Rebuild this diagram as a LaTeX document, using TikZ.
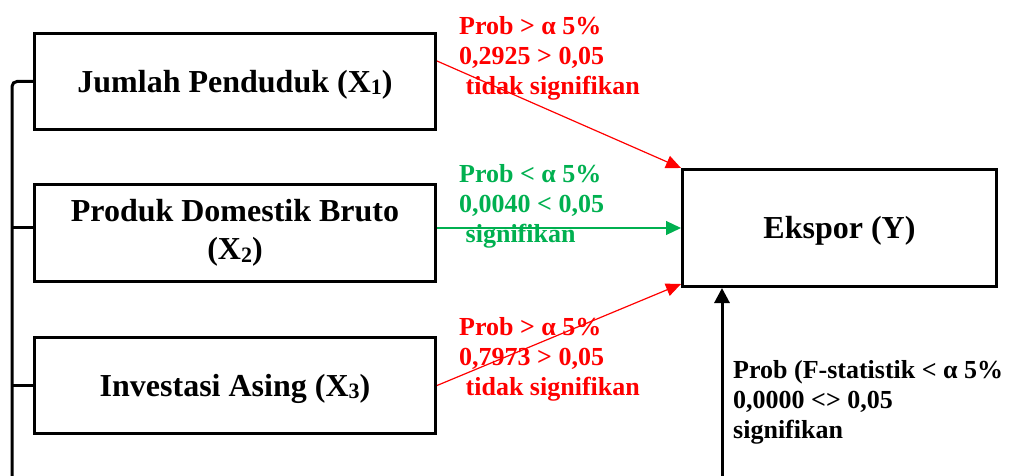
\documentclass[tikz,border=0pt]{standalone}
\usepackage{fontspec}
\setmainfont{Liberation Serif}
\usetikzlibrary{arrows.meta}
\definecolor{sigred}{RGB}{255,0,0}
\definecolor{siggreen}{RGB}{0,176,80}
\newcommand{\subdig}[1]{{\fontsize{22}{22}\selectfont\raisebox{-2.5pt}{#1}}}
\newcommand{\lowertxt}[1]{\raisebox{-3pt}[\height][\depth]{#1}}
\begin{document}
\begin{tikzpicture}[x=1pt,y=-1pt,
  box/.style={draw, line width=3pt, minimum width=401pt, minimum height=96pt,
    inner sep=0pt, align=center, font=\fontsize{32}{38}\selectfont\bfseries},
  lab/.style={anchor=base west, inner sep=0pt, align=left,
    font=\fontsize{26}{30}\selectfont\bfseries},
  redarrow/.style={draw=sigred, line width=1.2pt, -{Triangle[length=15pt,width=13pt]}},
  greenarrow/.style={draw=siggreen, line width=1.2pt, -{Triangle[length=15pt,width=14pt]}},
  blackline/.style={draw=black, line width=3pt},
]
\useasboundingbox (0,0) rectangle (1013,476);

\node[box] (x1) at (235,81.5) {\lowertxt{Jumlah Penduduk (X\subdig{1})}};
\node[box, minimum height=97pt] (x2) at (235,233) {Produk Domestik Bruto\\(X\subdig{2})};
\node[box] (x3) at (235,385.5) {\lowertxt{Investasi Asing (X\subdig{3})}};
\node[box, minimum width=314pt, minimum height=117pt] (y) at (839.5,228) {\lowertxt{Ekspor (Y)}};

% left bracket
\coordinate (bb) at (12,476);
\draw[blackline, rounded corners=5pt] (x1.west) -- (bb |- x1.west) -- (bb);
\draw[blackline] (bb |- y.west) -- (x2.west |- y.west);
\draw[blackline] (bb |- x3.west) -- (x3.west);

% arrows
\path (x1.east) ++(0,-20.5) coordinate (a1);
\draw[redarrow] (a1) -- (y.north west);
\draw[greenarrow] (x2.east |- y.west) -- (y.west);
\path (y.south west) ++(0,-4) coordinate (e3);
\draw[redarrow] (x3.east) -- (e3);
\coordinate (yb) at (722,476);
\draw[blackline, -{Triangle[length=15pt,width=15pt]}] (yb) -- (yb |- y.south);

% labels (anchor = baseline of last line)
\node[lab, text=sigred] (l1) at (459,95) {Prob > α 5\%\\0,2925 > 0,05\\\hspace*{0.25em}tidak signifikan};
\node[lab, text=siggreen] (l2) at (459,243) {Prob < α 5\%\\0,0040 < 0,05\\\hspace*{0.25em}signifikan};
\node[lab, text=sigred] (l3) at (459,395) {Prob > α 5\%\\0,7973 > 0,05\\\hspace*{0.25em}tidak signifikan};
\node[lab] (l4) at (733,438) {Prob (F-statistik < α 5\%\\0,0000 <> 0,05\\signifikan};
\end{tikzpicture}
\end{document}
